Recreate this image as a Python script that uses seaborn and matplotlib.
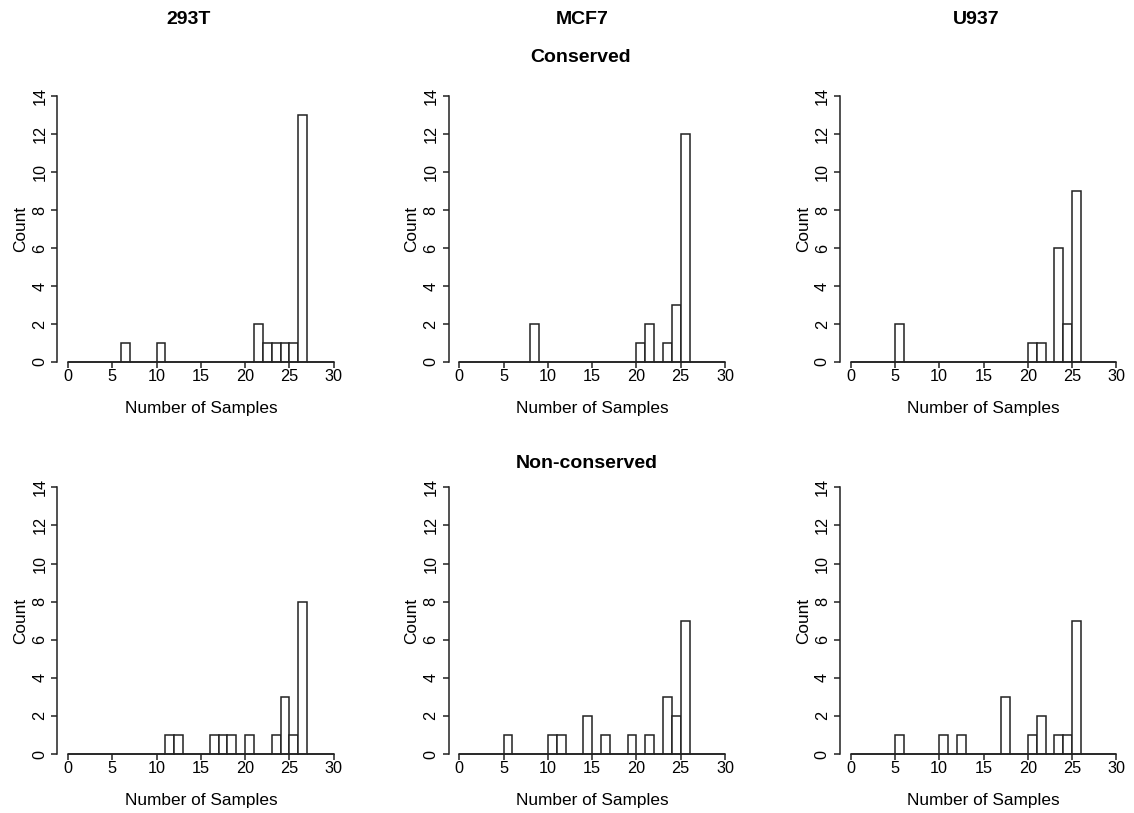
import numpy as np
import pandas as pd
import matplotlib
matplotlib.use("Agg")
import matplotlib.pyplot as plt
import seaborn as sns

# Per-panel histogram data: left edge of each occupied 1-wide bin and its count
conserved_293T_bins = [6, 10, 21, 22, 23, 24, 25, 26]
conserved_293T_counts = [1, 1, 2, 1, 1, 1, 1, 13]

conserved_MCF7_bins = [8, 20, 21, 23, 24, 25]
conserved_MCF7_counts = [2, 1, 2, 1, 3, 12]

conserved_U937_bins = [5, 20, 21, 23, 24, 25]
conserved_U937_counts = [2, 1, 1, 6, 2, 9]

nonconserved_293T_bins = [11, 12, 16, 17, 18, 20, 23, 24, 25, 26]
nonconserved_293T_counts = [1, 1, 1, 1, 1, 1, 1, 3, 1, 8]

nonconserved_MCF7_bins = [5, 10, 11, 14, 16, 19, 21, 23, 24, 25]
nonconserved_MCF7_counts = [1, 1, 1, 2, 1, 1, 1, 3, 2, 7]

nonconserved_U937_bins = [5, 10, 12, 17, 20, 21, 23, 24, 25]
nonconserved_U937_counts = [1, 1, 1, 3, 1, 2, 1, 1, 7]

cell_lines = ["293T", "MCF7", "U937"]
groups = ["Conserved", "Non-conserved"]
x_ticks = [0, 5, 10, 15, 20, 25, 30]
y_ticks = [0, 2, 4, 6, 8, 10, 12, 14]

panels = [
    [(conserved_293T_bins, conserved_293T_counts),
     (conserved_MCF7_bins, conserved_MCF7_counts),
     (conserved_U937_bins, conserved_U937_counts)],
    [(nonconserved_293T_bins, nonconserved_293T_counts),
     (nonconserved_MCF7_bins, nonconserved_MCF7_counts),
     (nonconserved_U937_bins, nonconserved_U937_counts)],
]

sns.set_style("ticks")
plt.rcParams["font.family"] = ["Liberation Sans", "DejaVu Sans"]
plt.rcParams["text.color"] = "black"
plt.rcParams["axes.labelcolor"] = "black"

W, H = 1134, 813
fig = plt.figure(figsize=(W / 100, H / 100), dpi=100)

ink = "#222222"
col_left = [57.4, 448.6, 840.0]
col_width = 287.0
row_top = [96.0, 487.3]
row_bottom = [362.0, 754.0]

for r in range(2):
    for c in range(3):
        bins, counts = panels[r][c]
        df = pd.DataFrame({"samples": np.asarray(bins, dtype=float) + 0.5,
                           "n": np.asarray(counts, dtype=float)})
        left = col_left[c] / W
        bottom = 1 - row_bottom[r] / H
        height = (row_bottom[r] - row_top[r]) / H
        ax = fig.add_axes([left, bottom, col_width / W, height])
        sns.histplot(data=df, x="samples", weights="n",
                     binwidth=1, binrange=(0, 30),
                     color="white", edgecolor=ink, linewidth=1.1, alpha=1.0,
                     ax=ax)
        ax.set_xlim(-1.2, 31.2)
        ax.set_ylim(0, 14)
        ax.set_xticks(x_ticks)
        ax.set_yticks(y_ticks)
        ax.set_yticklabels([str(v) for v in y_ticks], rotation=90, va="center")
        sns.despine(ax=ax)
        ax.spines["left"].set_bounds(0, 14)
        ax.spines["bottom"].set_bounds(0, 30)
        for s in ("left", "bottom"):
            ax.spines[s].set_color(ink)
            ax.spines[s].set_linewidth(1.1)
        ax.tick_params(axis="both", direction="out", length=4.3, width=1.1,
                       color=ink, labelsize=11.7, labelcolor="black")
        ax.tick_params(axis="x", pad=1.0)
        ax.tick_params(axis="y", pad=3.0)
        ax.set_xlabel("Number of Samples", fontsize=12.4, labelpad=12)
        ax.set_ylabel("Count", fontsize=12.4, labelpad=3)
        for sp in ax.patches:
            sp.set_clip_on(False)

# Column headers and row headers
for name, x in zip(cell_lines, [189, 582, 976]):
    fig.text(x / W, 1 - 19 / H, name, ha="center", va="center",
             fontsize=14, fontweight="bold")
fig.text(581 / W, 1 - 57.5 / H, groups[0], ha="center", va="center",
         fontsize=14, fontweight="bold")
fig.text(586.7 / W, 1 - 463 / H, groups[1], ha="center", va="center",
         fontsize=14, fontweight="bold")

fig.savefig("out.png", dpi=100, facecolor="white")
